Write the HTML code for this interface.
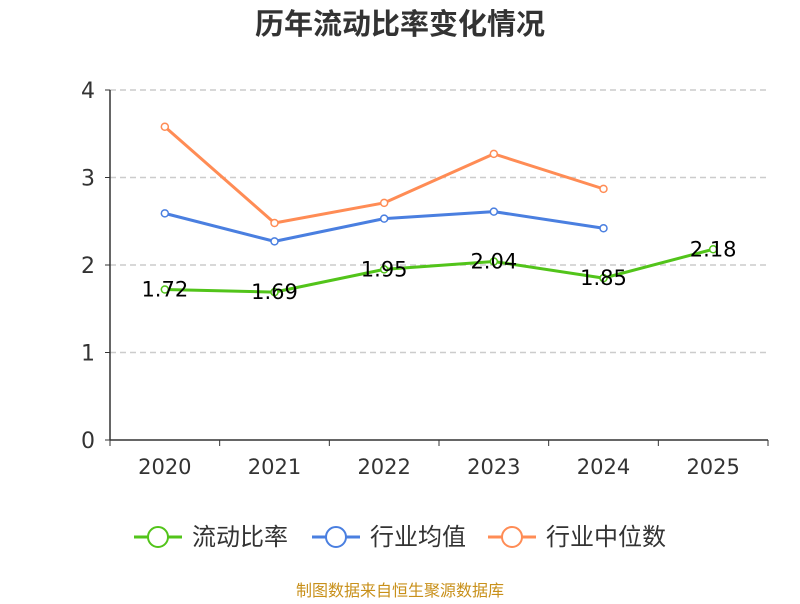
<!DOCTYPE html>
<html><head><meta charset="utf-8">
<style>
body{margin:0;background:#fff;width:800px;height:600px;overflow:hidden;font-family:"DejaVu Sans","Noto Sans CJK SC",sans-serif;}
</style></head>
<body>
<svg id="chart" width="800" height="600" xmlns="http://www.w3.org/2000/svg" font-family="DejaVu Sans, Noto Sans CJK SC, sans-serif">
<text x="400" y="34" text-anchor="middle" font-size="29" font-weight="bold" fill="#333" font-family="Noto Sans CJK SC, sans-serif">历年流动比率变化情况</text>
<g id="grid"></g><g id="axes"></g><g id="series"></g>
<g font-size="24" fill="#333" font-family="Noto Sans CJK SC, sans-serif">
 <g><line x1="134" y1="537" x2="182" y2="537" stroke="#52c41a" stroke-width="3"/><circle cx="158" cy="537" r="10" fill="#fff" stroke="#52c41a" stroke-width="2"/><text x="192" y="545">流动比率</text></g>
 <g><line x1="312" y1="537" x2="360" y2="537" stroke="#4a7fe0" stroke-width="3"/><circle cx="336" cy="537" r="10" fill="#fff" stroke="#4a7fe0" stroke-width="2"/><text x="370" y="545">行业均值</text></g>
 <g><line x1="488" y1="537" x2="536" y2="537" stroke="#ff8c55" stroke-width="3"/><circle cx="512" cy="537" r="10" fill="#fff" stroke="#ff8c55" stroke-width="2"/><text x="546" y="545">行业中位数</text></g>
</g>
<text x="400" y="596" text-anchor="middle" font-size="16" fill="#c8901a" font-family="Noto Sans CJK SC, sans-serif">制图数据来自恒生聚源数据库</text>
</svg>
<script>
const categories=["2020","2021","2022","2023","2024","2025"];
const ratioValues=[1.72,1.69,1.95,2.04,1.85,2.18];
const avgValues=[2.59,2.27,2.53,2.61,2.42];
const medianValues=[3.58,2.48,2.71,3.27,2.87];
const yTicks=[0,1,2,3,4];
const NS="http://www.w3.org/2000/svg";
const L=110,R=768,T=90,B=440,yMax=4;
const bw=(R-L)/categories.length;
const x=i=>L+bw*(i+0.5);
const y=v=>B-(v/yMax)*(B-T);
function mk(tag,attrs,parent,txt){const e=document.createElementNS(NS,tag);for(const k in attrs)e.setAttribute(k,attrs[k]);if(txt!==undefined)e.textContent=txt;parent.appendChild(e);return e;}
const grid=document.getElementById('grid'),axes=document.getElementById('axes'),ser=document.getElementById('series');
yTicks.forEach(t=>{
 if(t>0){const g=mk('line',{x1:L,x2:R,y1:y(t),y2:y(t),stroke:'#ccc','stroke-dasharray':'6,4','stroke-width':1.5},grid);
 
 }
 const lb=mk('text',{x:95,y:y(t)+8,'text-anchor':'end','font-size':22,fill:'#333'},axes,String(t));
 
 
 mk('line',{x1:L-5,x2:L,y1:y(t),y2:y(t),stroke:'#333'},axes);
});
const ya=mk('line',{x1:L,x2:L,y1:T,y2:B,stroke:'#333','stroke-width':1.5},axes);


const xa=mk('line',{x1:L,x2:R,y1:B,y2:B,stroke:'#333','stroke-width':1.5},axes);


for(let i=0;i<=categories.length;i++)mk('line',{x1:L+bw*i,x2:L+bw*i,y1:B,y2:B+6,stroke:'#333'},axes);
categories.forEach((c,i)=>{const t=mk('text',{x:x(i),y:474,'text-anchor':'middle','font-size':21,fill:'#333'},axes,c);
 
 });
function draw(vals,color,name,labels){
 const p=mk('polyline',{points:vals.map((v,i)=>x(i)+','+y(v)).join(' '),fill:'none',stroke:color,'stroke-width':3,'stroke-linejoin':'round'},ser);
 
 
 vals.forEach((v,i)=>{const c=mk('circle',{cx:x(i),cy:y(v),r:3.5,fill:'#fff',stroke:color,'stroke-width':1.5},ser);
  
  
  if(labels){const t=mk('text',{x:x(i),y:y(v)+7,'text-anchor':'middle','font-size':21,fill:'#000'},ser,v.toFixed(2));
   
   }});
}
draw(medianValues,'#ff8c55','industry-median',false);
draw(avgValues,'#4a7fe0','industry-average',false);
draw(ratioValues,'#52c41a','current-ratio',true);
</script>
</body></html>
